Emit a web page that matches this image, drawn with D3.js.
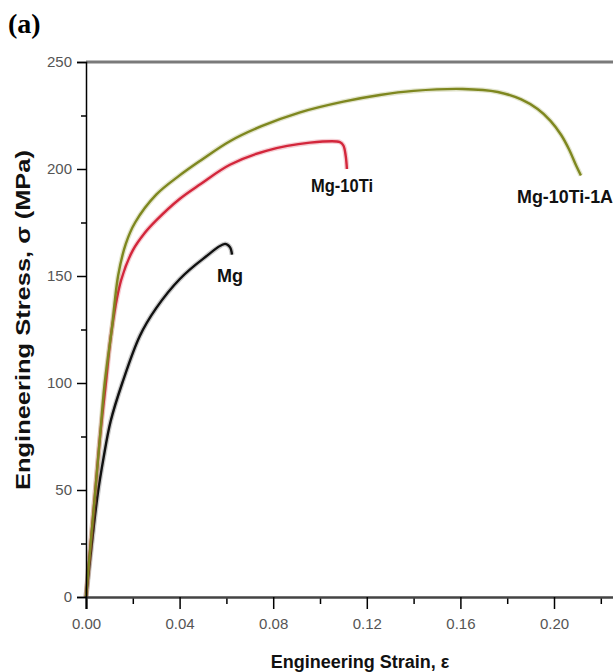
<!DOCTYPE html>
<html>
<head>
<meta charset="utf-8">
<script src="https://cdn.jsdelivr.net/npm/d3@7"></script>
<style>
  body { margin: 0; background: #fff; }
  svg { display: block; }
  .tick text { font-family: "Liberation Sans", Arial, sans-serif; fill: #555; }
</style>
</head>
<body>
<svg id="canvas" width="613" height="672"></svg>
<script>
// strain / stress
const mgStrain = [0, 0.0025, 0.005, 0.0075, 0.0105, 0.0155, 0.023, 0.030, 0.040, 0.050, 0.0594, 0.0615, 0.0624];
const mgStress = [0, 25, 48, 65, 82, 100, 122, 135, 148.5, 158, 165, 163.5, 160];

const tiStrain = [0, 0.002, 0.004, 0.006, 0.0085, 0.011, 0.015, 0.020, 0.025, 0.030, 0.040, 0.049, 0.0615, 0.077, 0.0957, 0.1085, 0.110, 0.111, 0.1115];
const tiStress = [0, 25, 50, 75, 100, 125, 148, 162, 170, 176, 186, 193, 202, 208.5, 212.3, 212.6, 211, 206, 200];

const alStrain = [0, 0.002, 0.004, 0.006, 0.008, 0.011, 0.0137, 0.017, 0.021, 0.030, 0.040, 0.049, 0.0615, 0.075, 0.0915, 0.110, 0.1256, 0.140, 0.161, 0.176, 0.186, 0.193, 0.1985, 0.203, 0.2065, 0.2095, 0.2115];
const alStress = [0, 25, 50, 75, 100, 125, 150, 165, 175, 188, 197, 204, 213, 220, 226.5, 231.5, 234.6, 236.5, 237.4, 236, 232.5, 228, 222.5, 216, 209, 201.5, 197];

const xMajor = [0, 0.04, 0.08, 0.12, 0.16, 0.20];
const xMinor = [0.02, 0.06, 0.10, 0.14, 0.18, 0.22];
const yMajor = [0, 50, 100, 150, 200, 250];
const yMinor = [25, 75, 125, 175, 225];

const series = [
  { name: "Mg", xs: mgStrain, ys: mgStress, color: "#111111", lx: 217, ly: 282, len: 26 },
  { name: "Mg-10Ti", xs: tiStrain, ys: tiStress, color: "#d3263b", lx: 311, ly: 192, len: 62 },
  { name: "Mg-10Ti-1Al", xs: alStrain, ys: alStress, color: "#7e871f", lx: 517, ly: 203, len: 101 },
];

const canvas = d3.select("#canvas");

const x = d3.scaleLinear().domain([0, 0.24]).range([86, 647.6]);
const y = d3.scaleLinear().domain([0, 250]).range([597, 62]);

// top frame line
canvas.append("line")
  .attr("x1", x(0)).attr("x2", 613)
  .attr("y1", y(250)).attr("y2", y(250))
  .attr("stroke", "#7a7a7a").attr("stroke-width", 3);

// curves
const line = d3.line()
  .x((d) => x(d[0]))
  .y((d) => y(d[1]))
  .curve(d3.curveCatmullRom.alpha(0.5));

series.forEach((s) => {
  const pts = s.xs.map((v, i) => [v, s.ys[i]]);
  canvas.append("path")
    .attr("d", line(pts))
    .attr("fill", "none")
    .attr("stroke", s.color)
    .attr("stroke-opacity", 0.22)
    .attr("stroke-width", 5);
  canvas.append("path")
    .attr("d", line(pts))
    .attr("fill", "none")
    .attr("stroke", s.color)
    .attr("stroke-width", 2.4);
});

// minor ticks
canvas.append("g")
  .attr("transform", `translate(0,${y(0)})`)
  .call(d3.axisBottom(x).tickValues(xMinor).tickSize(7).tickFormat(""))
  .call((g) => g.select(".domain").remove())
  .selectAll(".tick line").attr("stroke-width", 1.5);
canvas.append("g")
  .attr("transform", `translate(${x(0)},0)`)
  .call(d3.axisLeft(y).tickValues(yMinor).tickSize(5).tickFormat(""))
  .call((g) => g.select(".domain").remove())
  .selectAll(".tick line").attr("stroke-width", 1.5);

// major axes
const xAxis = canvas.append("g")
  .attr("transform", `translate(0,${y(0)})`)
  .call(d3.axisBottom(x).tickValues(xMajor).tickSize(12).tickPadding(9).tickFormat(d3.format(".2f")));
xAxis.select(".domain").attr("stroke", "#444").attr("stroke-width", 2.5);
xAxis.selectAll(".tick line").attr("stroke-width", 1.5);
xAxis.selectAll(".tick text").attr("font-size", 15);

const yAxis = canvas.append("g")
  .attr("transform", `translate(${x(0)},0)`)
  .call(d3.axisLeft(y).tickValues(yMajor).tickSize(9).tickPadding(5));
yAxis.select(".domain").attr("stroke", "#000").attr("stroke-width", 1.5);
yAxis.selectAll(".tick line").attr("stroke-width", 1.5);
yAxis.selectAll(".tick text").attr("font-size", 15);

// curve labels
series.forEach((s) => {
  canvas.append("text")
    .attr("x", s.lx)
    .attr("y", s.ly)
    .attr("textLength", s.len)
    .attr("lengthAdjust", "spacingAndGlyphs")
    .attr("font-family", "'Liberation Sans', Arial, sans-serif")
    .attr("font-weight", "bold")
    .attr("font-size", 19)
    .attr("fill", "#111")
    .text(s.name);
});

// axis titles
canvas.append("text")
  .attr("x", 360)
  .attr("y", 668)
  .attr("text-anchor", "middle")
  .attr("font-family", "'Liberation Sans', Arial, sans-serif")
  .attr("font-weight", "bold")
  .attr("font-size", 18)
  .attr("fill", "#111")
  .text("Engineering Strain, ε");

canvas.append("text")
  .attr("transform", "translate(30,320) rotate(-90)")
  .attr("text-anchor", "middle")
  .attr("textLength", 340)
  .attr("lengthAdjust", "spacingAndGlyphs")
  .attr("font-family", "'Liberation Sans', Arial, sans-serif")
  .attr("font-weight", "bold")
  .attr("font-size", 20)
  .attr("fill", "#111")
  .text("Engineering Stress, σ (MPa)");

canvas.append("text")
  .attr("x", 8)
  .attr("y", 33)
  .attr("font-family", "'Liberation Serif', 'Times New Roman', serif")
  .attr("font-weight", "bold")
  .attr("font-size", 28)
  .attr("fill", "#000")
  .text("(a)");
</script>
</body>
</html>
